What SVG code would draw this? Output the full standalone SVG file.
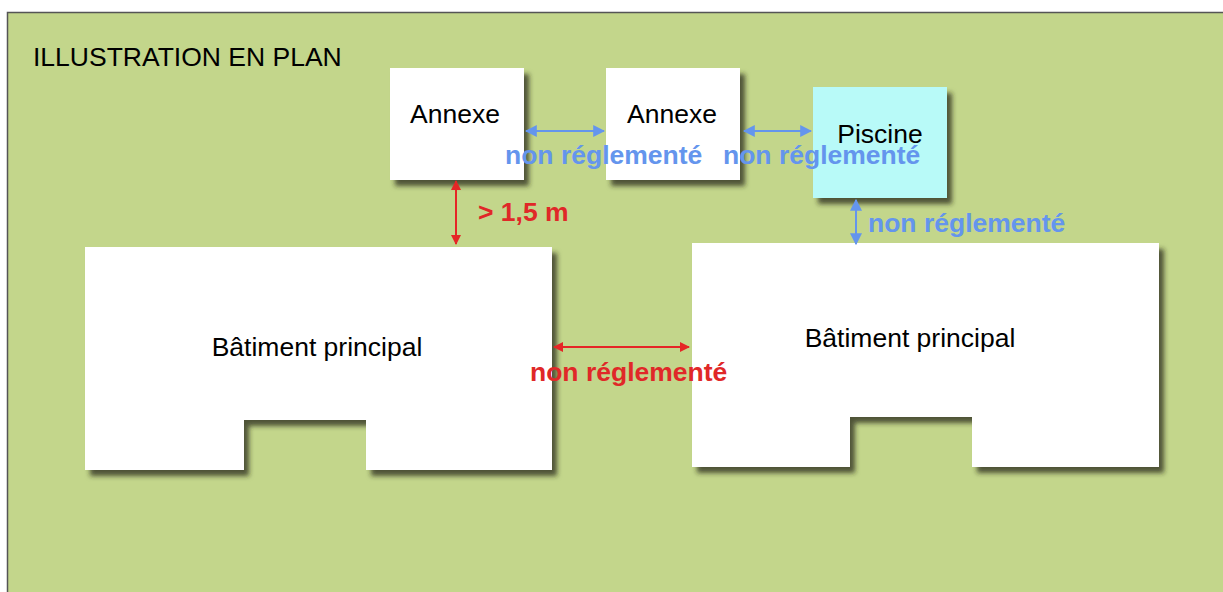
<svg xmlns="http://www.w3.org/2000/svg" width="1223" height="592" viewBox="0 0 1223 592">
<defs>
<style>
.lbl{font-family:"Liberation Sans",Arial,sans-serif;font-size:26.5px;fill:#000}
.blue{font-family:"Liberation Sans",Arial,sans-serif;font-size:26.5px;font-weight:bold;fill:#6495ED}
.red{font-family:"Liberation Sans",Arial,sans-serif;font-size:26.5px;font-weight:bold;fill:#E02828}
.box{fill:#fff;filter:url(#sh)}
.bl{stroke:#6495ED;stroke-width:2;fill:none;marker-start:url(#ab);marker-end:url(#ab)}
.rl{stroke:#E52626;stroke-width:2;fill:none;marker-start:url(#ar);marker-end:url(#ar)}
</style>
<filter id="sh" x="-10%" y="-10%" width="130%" height="130%">
<feDropShadow dx="5" dy="6" stdDeviation="2.5" flood-color="#2a2a1a" flood-opacity="0.75"/>
</filter>
<marker id="ab" viewBox="0 0 10 10" refX="9" refY="5" markerWidth="6" markerHeight="6.5" orient="auto-start-reverse" markerUnits="strokeWidth">
<path d="M0,0 L10,5 L0,10 z" fill="#6495ED"/>
</marker>
<marker id="ar" viewBox="0 0 10 10" refX="9" refY="5" markerWidth="5.5" markerHeight="5" orient="auto-start-reverse" markerUnits="strokeWidth">
<path d="M0,0 L10,5 L0,10 z" fill="#E52626"/>
</marker>
</defs>
<rect x="0" y="0" width="1223" height="592" fill="#fff"/>
<rect x="7.5" y="12.5" width="1220" height="585" fill="#C3D68B" stroke="#555" stroke-width="1.5"/>
<text class="lbl" x="33" y="66">ILLUSTRATION EN PLAN</text>

<g id="annexe1">
<rect class="box" x="390" y="68" width="134" height="112"/>
<text class="lbl" x="455" y="123" text-anchor="middle">Annexe</text>
</g>
<g id="annexe2">
<rect class="box" x="606" y="68" width="134" height="112"/>
<text class="lbl" x="672" y="123" text-anchor="middle">Annexe</text>
</g>
<g id="piscine">
<rect x="813" y="87" width="134" height="111" fill="#B8FAF8" filter="url(#sh)"/>
<text class="lbl" x="880" y="143" text-anchor="middle">Piscine</text>
</g>
<g id="batiment1">
<path class="box" d="M85,247 H552 V470 H366 V420 H244 V470 H85 Z"/>
<text class="lbl" x="317" y="356" text-anchor="middle">Bâtiment principal</text>
</g>
<g id="batiment2">
<path class="box" d="M692,243 H1159 V467 H972 V417 H850 V467 H692 Z"/>
<text class="lbl" x="910" y="347" text-anchor="middle">Bâtiment principal</text>
</g>

<g id="connectors">
<line class="bl" x1="526" y1="131" x2="604" y2="131"/>
<line class="bl" x1="744" y1="131" x2="811" y2="131"/>
<line class="bl" x1="856" y1="200" x2="856" y2="244"/>
<line class="rl" x1="456" y1="181" x2="456" y2="244"/>
<line class="rl" x1="554" y1="347" x2="689" y2="347"/>
</g>
<g id="labels">
<text class="blue" x="505" y="164">non réglementé</text>
<text class="blue" x="723" y="164">non réglementé</text>
<text class="blue" x="868" y="232">non réglementé</text>
<text class="red" x="478" y="221">&gt; 1,5 m</text>
<text class="red" x="530" y="381">non réglementé</text>
</g>
</svg>
